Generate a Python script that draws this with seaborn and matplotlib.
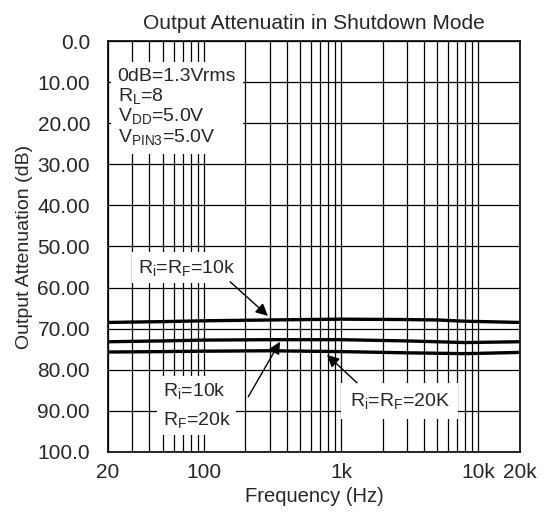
import numpy as np
import pandas as pd
import matplotlib
matplotlib.use("Agg")
import matplotlib.pyplot as plt
import matplotlib.ticker as mticker
import seaborn as sns

# values
freq_hz = [20, 50, 100, 300, 1000, 3000, 5000, 8000, 20000]
atten_10k_10k = [68.5, 68.3, 68.1, 67.9, 67.7, 67.8, 67.9, 68.2, 68.5]
atten_10k_20k = [73.2, 73.0, 72.8, 72.7, 72.7, 73.0, 73.2, 73.4, 73.2]
atten_20k_20k = [75.7, 75.6, 75.5, 75.4, 75.6, 75.9, 76.0, 76.1, 75.8]

x_ticks = [20, 100, 1000, 10000, 20000]
x_labels = ["20", "100", "1k", "10k", "20k"]
y_ticks = [0, 10, 20, 30, 40, 50, 60, 70, 80, 90, 100]
y_labels = ["0.0", "10.00", "20.00", "30.00", "40.00", "50.00",
            "60.00", "70.00", "80.00", "90.00", "100.0"]

sns.set_style("white")
plt.rcParams["font.family"] = ["Liberation Sans", "DejaVu Sans"]
plt.rcParams["mathtext.fontset"] = "custom"
plt.rcParams["mathtext.rm"] = "Liberation Sans"
plt.rcParams["mathtext.it"] = "Liberation Sans"

df = pd.DataFrame({"freq": freq_hz * 3,
                   "atten": atten_10k_10k + atten_10k_20k + atten_20k_20k,
                   "curve": ["a"] * 9 + ["b"] * 9 + ["c"] * 9})

fig = plt.figure(figsize=(5.46, 5.14), dpi=100)
ax = fig.add_axes([0.198, 0.121, 0.754, 0.799])

sns.lineplot(data=df, x="freq", y="atten", units="curve", estimator=None,
             color="black", lw=2.4, ax=ax, zorder=4)

ax.set_xscale("log")
ax.set_xlim(20, 20000)
ax.set_ylim(100, 0)
ax.set_xticks(x_ticks)
ax.set_xticklabels(x_labels, fontsize=15)
ax.xaxis.set_minor_locator(mticker.LogLocator(base=10, subs=np.arange(2, 10)))
ax.xaxis.set_minor_formatter(mticker.NullFormatter())
ax.set_yticks(y_ticks)
ax.set_yticklabels(y_labels, fontsize=15)
ax.tick_params(axis="y", length=0, pad=13)
ax.tick_params(axis="x", length=0, pad=8)

ax.grid(which="both", axis="x", color="black", lw=0.9)
ax.grid(which="major", axis="y", color="black", lw=0.9)
for s in ax.spines.values():
    s.set_color("black")
    s.set_linewidth(1.2)
    s.set_zorder(6)

ax.set_title("Output Attenuatin in Shutdown Mode", fontsize=15, pad=9)
ax.set_xlabel("Frequency (Hz)", fontsize=14.5, labelpad=4)
ax.set_ylabel("Output Attenuation (dB)", fontsize=14, labelpad=3)

box = dict(fc="white", ec="none", pad=4)
ax.text(23.5, 6.5,
        "0dB=1.3Vrms\nR$_\\mathrm{L}$=8\nV$_\\mathrm{DD}$=5.0V\nV$_\\mathrm{PIN3}$=5.0V",
        fontsize=14, va="top", ha="left", linespacing=1.05,
        bbox=dict(fc="white", ec="none", pad=5), zorder=5)
ax.text(33, 55.2, "R$_\\mathrm{i}$=R$_\\mathrm{F}$=10k", fontsize=14,
        va="center", ha="left", bbox=box, zorder=5)
ax.text(50, 85.3, "R$_\\mathrm{i}$=10k", fontsize=14,
        va="center", ha="left", bbox=box, zorder=5)
ax.text(50, 92.2, "R$_\\mathrm{F}$=20k", fontsize=14,
        va="center", ha="left", bbox=box, zorder=5)
ax.text(1150, 87.6, "R$_\\mathrm{i}$=R$_\\mathrm{F}$=20K", fontsize=14,
        va="center", ha="left", bbox=dict(fc="white", ec="none", pad=6), zorder=5)

arrow = dict(arrowstyle="-|>", color="black", lw=1, mutation_scale=18,
             shrinkA=0, shrinkB=0)
ax.annotate("", xy=(292, 66.9), xytext=(155, 58.6), arrowprops=arrow, zorder=6)
ax.annotate("", xy=(358, 73.2), xytext=(210, 86.6), arrowprops=arrow, zorder=6)
ax.annotate("", xy=(787, 76.4), xytext=(1303, 83.2), arrowprops=arrow, zorder=6)

fig.savefig("out.png", dpi=100)
